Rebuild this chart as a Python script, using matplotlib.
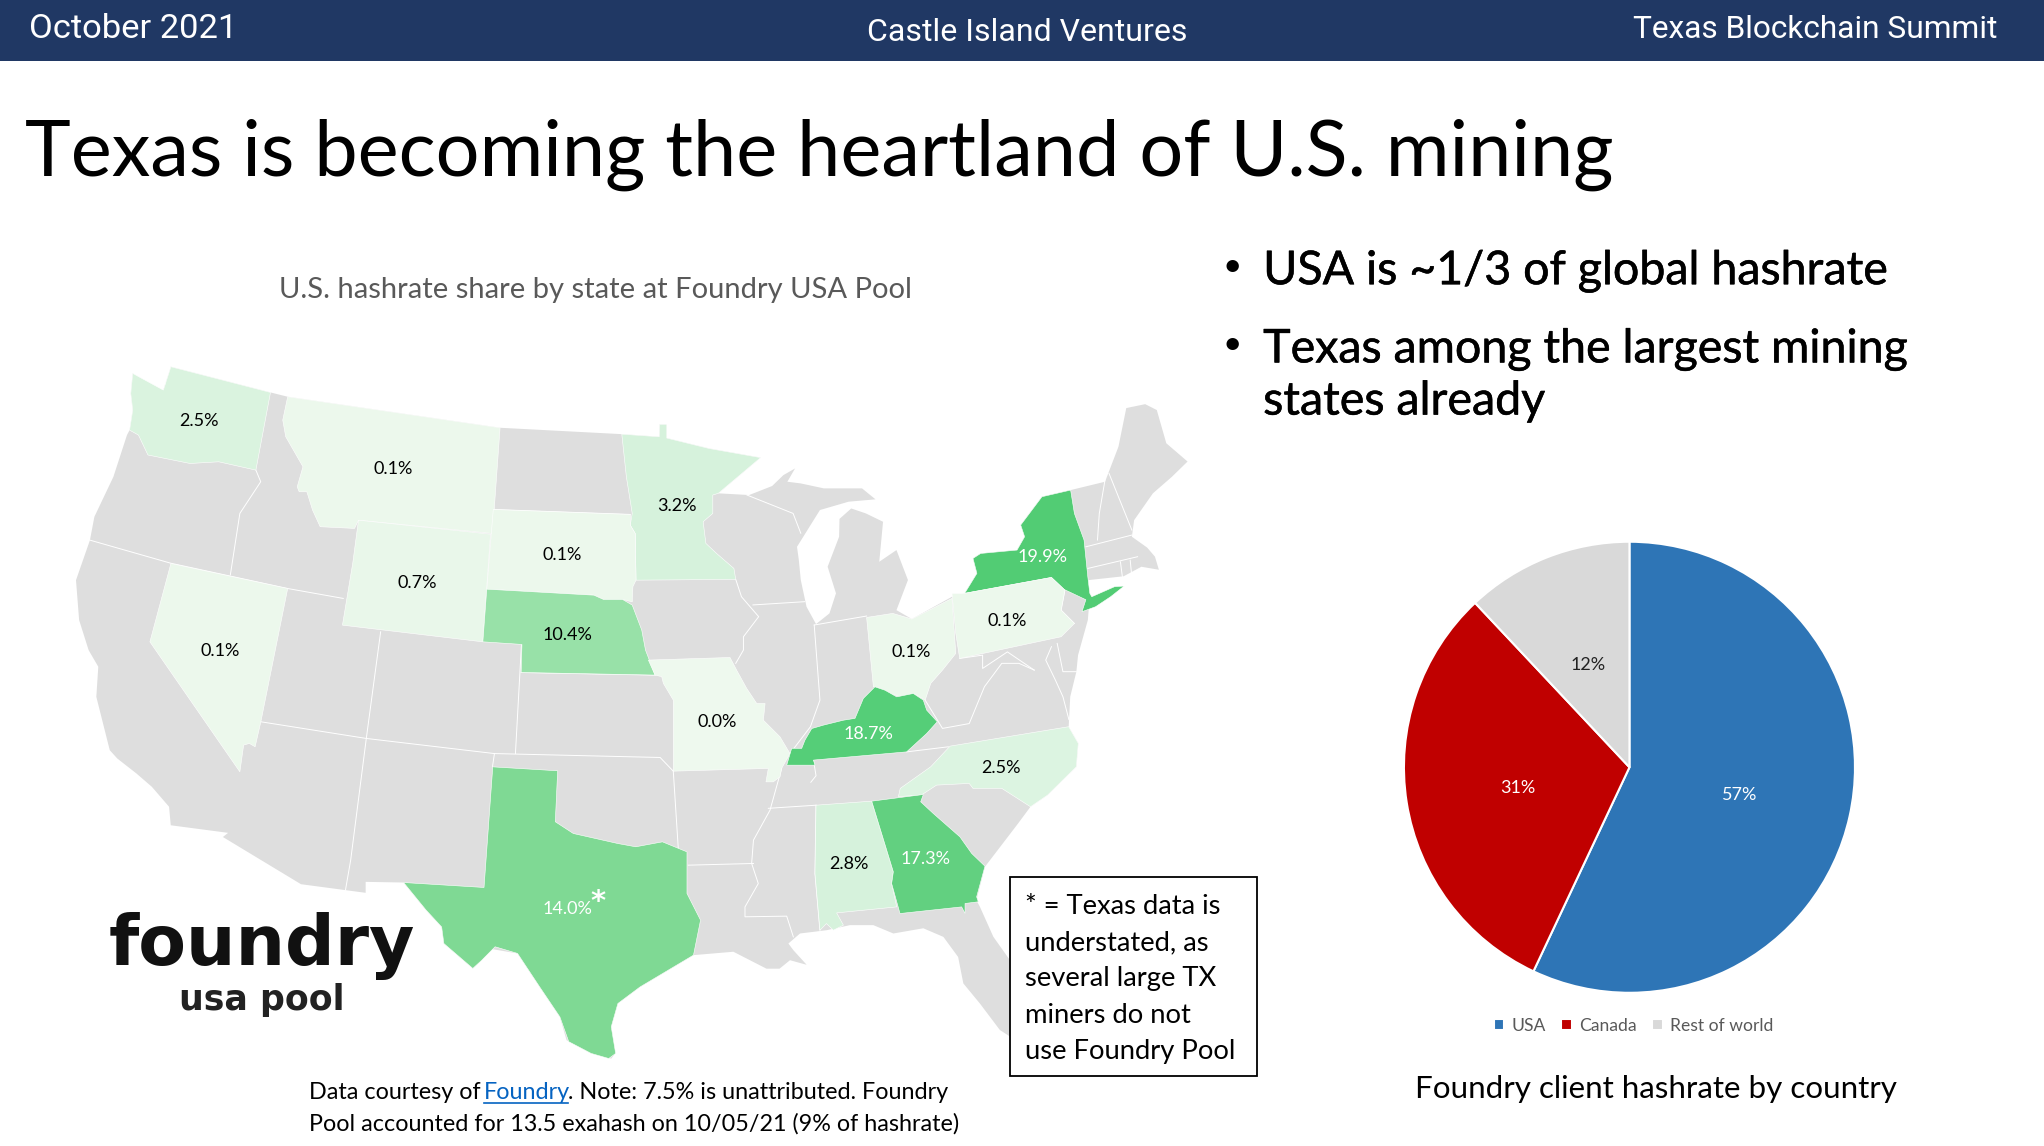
import matplotlib
matplotlib.use("Agg")
import matplotlib.pyplot as plt
import matplotlib.patheffects as pe
from matplotlib.patches import Polygon, Rectangle

# slide is traced in 1568 x 879 units, the figure is 2044 x 1146 px
SLIDE_W = 1568
SLIDE_H = 879

# %% data

country_names = ["USA", "Canada", "Rest of world"]
country_share = [57, 31, 12]
country_colors = ["#2E75B6", "#C00000", "#D9D9D9"]

state_names = ["WA", "MT", "MN", "SD", "WY", "NY", "NE", "PA", "NV", "OH", "MO", "KY", "NC", "AL", "GA", "TX"]
state_share = [2.5, 0.1, 3.2, 0.1, 0.7, 19.9, 10.4, 0.1, 0.1, 0.1, 0.0, 18.7, 2.5, 2.8, 17.3, 14.0]
state_colors = ["#DAF3DF", "#ECF8EC", "#D6F2DC", "#ECF8EC", "#E9F7EA", "#52CC74", "#98E1A8", "#ECF8EC",
                "#ECF8EC", "#ECF8EC", "#EEF9EE", "#55CE78", "#DCF4E1", "#D6F2DC", "#62D080", "#7FD994"]
label_spots = [(153, 323), (302, 360), (519, 388), (431, 426), (320, 447), (800, 427), (435, 487), (773, 476),
               (169, 499), (699, 500), (550, 554), (666, 563), (768, 589), (651, 663), (710, 659), (435, 697)]
white_labels = ["NY", "KY", "GA", "TX"]

us_outline = [
    (101.8, 286.4), (118, 298), (125.3, 299.2), (131.1, 281.3), (207.5, 301), (220.7, 304.3), (383.6, 328.1),
    (477, 333), (505.7, 335), (506, 325.5), (511.5, 325.5), (511.5, 336), (544, 344), (583.5, 351),
    (551, 378.4), (574.7, 379.7), (592.3, 372.8), (601, 364.4), (609.9, 359.3), (604, 369.5), (614.3, 370.8),
    (632, 374.6), (661.3, 374.6), (671.6, 383), (651, 384.8), (629, 391.2), (611.4, 419.4), (612.8, 429.6),
    (614.3, 444.9), (618.7, 465.4), (626, 478.7), (636.3, 470.5), (641.3, 455.1), (634.9, 434.7), (643.7, 411.7),
    (644, 398), (653, 390), (664.2, 393.8), (677.4, 400.2), (674.5, 430.9), (687.7, 421.9), (696.5, 444.9),
    (687.7, 468), (699.5, 474.8), (730.3, 457.7), (740, 455.1), (749.4, 439.8), (746.4, 428.3), (752.3, 424.5),
    (780.2, 421.9), (786, 411.7), (783, 402.7), (799.3, 381), (821.3, 375.9), (847.7, 369.5), (858, 342.6),
    (864, 313), (878.5, 310), (887.4, 314.5), (894.7, 340), (911, 354), (899, 365.7), (884.4, 378.4),
    (870, 399), (868.3, 411.7), (880, 420), (886, 427), (889, 437), (875.6, 434.7), (862, 442), (834.5, 445),
    (836, 457.7), (834.5, 475.6), (827, 502.5), (825.7, 515.2), (821, 534.4), (819.8, 557.4), (827.2, 570.2),
    (825.7, 588.1), (803.7, 609.8), (790.5, 618.8), (781, 631.6), (755.6, 664.8), (749, 690.4), (751.7, 695.5),
    (762, 718.5), (774.7, 736.4), (790, 760), (812, 790), (800, 810), (774.7, 795), (767, 790), (751.7, 769.7),
    (739, 754.3), (735, 734), (723.7, 718.6), (708.3, 712), (685.3, 716), (670, 709.6), (652, 709.6), (634, 713.5),
    (613.7, 716), (604.8, 723.7), (608.6, 728.8), (618.8, 740), (606, 736.5), (598, 743), (588, 743), (562.6, 730),
    (532, 732.6), (491, 757), (474, 769.7), (468.9, 787.6), (472, 808), (468.9, 812), (453.5, 808), (434.6, 797.8),
    (429.5, 780), (414, 757), (397, 731.3), (374.7, 727.5), (369.6, 736.5), (362.7, 742.8), (340.5, 723.7),
    (338.8, 711), (326.8, 698), (309.6, 676.9), (280.5, 676.4), (280.5, 684.8), (230.9, 678.2), (171, 642),
    (175, 638.8), (131, 633), (129.7, 618.8), (116.5, 603.5), (104.7, 593.3), (90, 581.8), (84.2, 575.4),
    (73.9, 534.5), (75.4, 511.4), (68, 498.7), (60.7, 475.6), (58.3, 445), (69, 414.3), (72.4, 396.4),
    (87, 365.7), (97.4, 333.7), (99.4, 329.9), (101.8, 314.6), (100.3, 301.8),
]

state_outlines = {
    "WA": [(101.8, 286.4), (125.3, 299.2), (131.1, 281.3), (207.5, 301), (196.3, 360.6), (167.8, 354.2),
           (145.8, 355.5), (113.5, 349), (106.2, 333.7), (99.4, 329.9), (101.8, 314.6), (100.3, 301.8)],
    "MT": [(220.7, 304.3), (383.6, 328.1), (377.8, 409.2), (275, 399), (272, 405.3), (245.6, 404), (239.8, 391.3),
           (235.4, 377.2), (229.5, 377.2), (228, 373.4), (232.4, 358), (219.2, 335), (216.9, 322.2)],
    "WY": [(275, 399), (376.3, 409.7), (370.4, 492.3), (262.7, 479.5), (270.6, 432)],
    "SD": [(378.4, 390.8), (483.5, 394.6), (483.5, 402.8), (487.3, 409.2), (487.9, 445), (485.5, 450), (485, 461.6),
           (477.6, 459.8), (463, 459.8), (455.6, 456.5), (373.4, 451.9)],
    "NE": [(373.4, 451.9), (455.6, 456.5), (463, 459.8), (477.6, 459.8), (485, 464.1), (492.3, 483.3), (495.2, 498.7),
           (502.6, 517.8), (399.8, 515.8), (400.4, 494.3), (370.4, 492.3)],
    "NV": [(131.1, 432.2), (220.7, 451.4), (200.1, 553.6), (195.7, 572.8), (191.3, 570.2), (186.9, 571.5),
           (184, 592), (115, 492.3)],
    "MN": [(477, 333), (505.7, 335), (506, 325.5), (511.5, 325.5), (511.5, 336), (544, 344), (583.5, 351),
           (551, 378.4), (546.8, 379.7), (546.8, 393.8), (539.4, 400.2), (541.5, 416.8), (549.7, 424.5), (563, 436),
           (564.4, 444.4), (487.9, 445), (487.3, 409.2), (483.5, 402.8), (485, 393.8), (480.5, 365.7)],
    "MO": [(497.4, 506.3), (560, 504.3), (565.1, 514), (572.8, 528), (580.5, 539.6), (586.9, 539.6), (585.6, 552.4),
           (598.4, 565.2), (606, 578), (599.6, 589.4), (598.4, 595.8), (593.2, 599.7), (587.6, 599.7), (589.4, 589.4),
           (516.5, 591.5), (516.5, 537), (508.9, 524.2), (507.6, 519), (502.5, 517.8)],
    "KY": [(603.5, 586.9), (607.3, 574), (615, 574), (617.5, 567.7), (622.7, 558.8), (631.6, 556.2), (647, 552.4),
           (655.9, 551), (662.3, 535.7), (671.2, 526.8), (678.9, 529.4), (687.9, 534.5), (700.6, 531.9), (708.3, 537),
           (710.9, 544.7), (719, 553.6), (710.9, 562.6), (695.5, 576.7), (624, 583), (625.2, 586.9)],
    "OH": [(664.8, 473.6), (684.8, 470.5), (699.5, 474.8), (730.3, 459), (733.2, 501.2), (723, 514), (714, 524.2),
           (709.7, 537), (700.9, 531.9), (690.6, 534.4), (678.9, 530.6), (673, 527.3), (670, 526.7)],
    "PA": [(730.3, 455.1), (740, 455.1), (806.6, 442.9), (816.9, 452.6), (814, 468), (824.2, 478.2), (814, 488.4),
           (736.2, 505), (733.2, 485.8)],
    "NY": [(740, 455.1), (749.4, 439.8), (746.4, 428.3), (752.3, 424.5), (780.2, 421.9), (786, 411.7), (783, 402.7),
           (799.3, 381), (821.3, 375.9), (824.2, 393.8), (831.6, 414.2), (834.5, 442.4), (836, 455), (837.5, 457.7),
           (855, 450), (862.4, 449.5), (852, 457.7), (840.4, 465.4), (830, 469.2), (833, 460), (816.3, 452.1),
           (806.6, 442.9)],
    "NC": [(728.8, 572.3), (819.8, 557.4), (827.2, 570.2), (825.7, 588.1), (803.7, 609.8), (790.5, 618.8),
           (768.5, 604.7), (746.4, 604.7), (743.5, 600.9), (718.5, 602.2), (706.8, 609.8), (689.2, 611), (690.6, 604.7),
           (714, 588.1)],
    "AL": [(626, 617.6), (668.7, 614.5), (685.3, 668.7), (684, 677.7), (687.9, 695.6), (641.8, 700.2), (647, 709.6),
           (639.3, 713.5), (634, 708.4), (629, 713.5), (625.2, 670)],
    "GA": [(668.7, 614.5), (708.3, 609.4), (706.3, 615), (716, 624), (736.4, 641.9), (745.4, 654.6), (755.6, 664.4),
           (749.2, 687.9), (750.5, 691.7), (740.3, 693), (740.3, 700.7), (737.7, 695.6), (690.4, 700.7), (684, 677.7),
           (685.3, 668.7)],
    "TX": [(378, 588.2), (427.8, 591.2), (426, 630.3), (439.8, 639.3), (474, 647), (487.7, 649.5), (508.2, 645.7),
           (527, 653.4), (527, 685.3), (537.4, 705.8), (532, 732.6), (491, 757), (474, 769.7), (468.9, 787.6),
           (472.3, 808), (467, 811.9), (453.5, 808), (436.3, 799), (429.5, 780), (414, 757), (397, 731.3),
           (379.8, 726.2), (369.6, 736.5), (362.7, 742.8), (340.5, 723.7), (338.8, 711), (326.8, 698), (309.6, 676.9),
           (371.3, 680.7)],
}

# thin white borders between the grey states
border_lines = [
    [(69, 414.3), (131, 432), (220.7, 451.4), (263.3, 459)],
    [(196.3, 360.6), (200, 369.5), (184, 393.8), (176.7, 441)],
    [(200, 553.6), (281, 566.4), (379.3, 578), (506.4, 581), (516.5, 591.5)],
    [(292, 484.6), (281, 566.4), (269, 659.8), (265, 682.8)],
    [(400, 494.8), (395.4, 578)],
    [(379.3, 578), (377.8, 588)],
    [(399.8, 515.8), (502.6, 517.8)],
    [(378.4, 390.8), (483.5, 394.6)],
    [(564.4, 444.4), (568.8, 457.7), (582, 473), (570.3, 488.4), (570.3, 498.6), (564.4, 508.8)],
    [(577.6, 464), (617.3, 461.5)],
    [(624.6, 479.4), (629, 537), (621.7, 557.4), (606, 578)],
    [(624.6, 479.4), (664.8, 472.5)],
    [(573, 379.7), (608.4, 393.8), (614.3, 409)],
    [(516.5, 591.5), (520.4, 652)],
    [(528, 663.6), (578, 662.3)],
    [(599.6, 589.4), (590.7, 621.4), (578, 644.4), (576.6, 662.3), (581.7, 677.7), (571.5, 695.6), (571.5, 703.2),
     (603.5, 702.7), (608.6, 718.6)],
    [(589.4, 620), (626, 617.6)],
    [(624, 583), (626, 595), (622, 600)],
    [(695.5, 576.7), (727.5, 572.8)],
    [(626, 617.6), (625.2, 670), (629, 713.5)],
    [(709.7, 537), (723, 558.7), (743.5, 555), (755.2, 526.7), (768.5, 508.8), (781.7, 508.8), (793.4, 514)],
    [(736.2, 505), (753.8, 502.5), (753.8, 512.7), (772.8, 500), (793.4, 514)],
    [(811, 493.5), (815.4, 515.2), (825.7, 515.2)],
    [(806.6, 496), (802.2, 506.3), (809.6, 521.6), (815.4, 534.4), (820, 552)],
    [(847.7, 368), (843.3, 393.8), (841.9, 414.2)],
    [(850.7, 363), (868.3, 406.6)],
    [(833, 419.4), (868.3, 410.4)],
    [(834.5, 436), (872.7, 427)],
    [(859.5, 430.9), (861, 442.4)],
    [(867, 429.6), (868, 440)],
    [(816.9, 452.6), (814, 468), (824.2, 478.2)],
    [(119, 298), (124, 305), (118, 316), (120, 318), (127, 305), (127, 292)],
]

note_lines = ["* = Texas data is", "understated, as", "several large TX", "miners do not", "use Foundry Pool"]
bullets = ["USA is ~1/3 of global hashrate", "Texas among the largest mining", "states already"]

# %% slide

plt.rcParams["font.family"] = ["Lato", "DejaVu Sans"]

fig = plt.figure(figsize=(20.44, 11.46), dpi=100)
ax = fig.add_axes([0, 0, 1, 1])
ax.set_xlim(0, SLIDE_W)
ax.set_ylim(SLIDE_H, 0)
ax.axis("off")

ax.add_patch(Rectangle((0, 0), SLIDE_W, 47, fc="#203864", ec="none"))
head_font = dict(family="Roboto", color="white", va="center")
ax.text(22, 22.5, "October 2021", ha="left", fontsize=24.8, **head_font)
ax.text(788, 25, "Castle Island Ventures", ha="center", fontsize=23, **head_font)
ax.text(1532, 22.5, "Texas Blockchain Summit", ha="right", fontsize=22.8, **head_font)

ax.text(19, 135, "Texas is becoming the heartland of U.S. mining", fontsize=55.8, color="black", va="baseline")
ax.text(457, 222.5, "U.S. hashrate share by state at Foundry USA Pool", fontsize=21, color="#595959",
        ha="center", va="center")

# %% map

ax.add_patch(Polygon(us_outline, closed=True, fc="#DEDEDE", ec="none", zorder=1))
for line in border_lines:
    xs, ys = zip(*line)
    ax.plot(xs, ys, color="white", lw=0.7, zorder=2)

for name, share, color, spot in zip(state_names, state_share, state_colors, label_spots):
    ax.add_patch(Polygon(state_outlines[name], closed=True, fc=color, ec="white", lw=0.4, zorder=3))
    label_color = "white" if name in white_labels else "black"
    ax.text(spot[0], spot[1], f"{share:.1f}%", color=label_color, fontsize=13, ha="center", va="center", zorder=4)
ax.text(459, 692, "*", family="DejaVu Sans", color="white", fontsize=21, fontweight="bold",
        ha="center", va="center", zorder=4)

# logo
ax.text(201, 740, "foundry", family="DejaVu Sans", fontweight="bold", fontsize=50, color="#111111",
        ha="center", va="baseline")
ax.text(201, 775, "usa pool", family="DejaVu Sans", fontweight="bold", fontsize=25, color="#222222",
        ha="center", va="baseline")

# %% notes

heavy = [pe.withStroke(linewidth=0.4, foreground="black")]

ax.add_patch(Rectangle((775, 673), 189, 152, fc="white", ec="black", lw=1.3, zorder=5))
for i, line in enumerate(note_lines):
    ax.text(786, 695 + i * 27.9, line, fontsize=19.7, color="black", va="center", zorder=6)

note_font = dict(fontsize=16.8, color="black", va="center")
ax.text(237, 838, "Data courtesy of", **note_font)
ax.text(371, 838, "Foundry", fontsize=16.8, color="#0563C1", va="center")
ax.plot([371, 436], [846, 846], color="#0563C1", lw=1.2)
ax.text(436, 838, ". Note: 7.5% is unattributed. Foundry", **note_font)
ax.text(237, 862, "Pool accounted for 13.5 exahash on 10/05/21 (9% of hashrate)", **note_font)

bullet_font = dict(fontsize=33.5, color="black", va="center", path_effects=heavy)
ax.text(945, 205, "•", fontsize=24, color="black", ha="center", va="center")
ax.text(969, 208, bullets[0], **bullet_font)
ax.text(945, 265, "•", fontsize=24, color="black", ha="center", va="center")
ax.text(969, 268, bullets[1], **bullet_font)
ax.text(969, 308, bullets[2], **bullet_font)

# %% pie

pie_ax = fig.add_axes([1077 / SLIDE_W, 1 - 762 / SLIDE_H, 346 / SLIDE_W, 347 / SLIDE_H])
wedges, _, pct_texts = pie_ax.pie(
    country_share,
    colors=country_colors,
    startangle=90,
    counterclock=False,
    radius=1.0,
    autopct="%.0f%%",
    pctdistance=0.5,
    wedgeprops=dict(edgecolor="white", linewidth=1.5),
    textprops=dict(fontsize=13),
)
pct_texts[0].set_color("white")
pct_texts[1].set_color("white")
pct_texts[2].set_color("#222222")
for t in pct_texts:
    t.set_y(t.get_position()[1] - 0.012)
pie_ax.set_xlim(-1, 1)
pie_ax.set_ylim(-1, 1)

ax.legend(
    wedges,
    country_names,
    loc="center",
    bbox_to_anchor=(1253 / SLIDE_W, 1 - 787 / SLIDE_H),
    ncol=3,
    frameon=False,
    fontsize=12.6,
    labelcolor="#595959",
    handlelength=0.6,
    handleheight=0.6,
    handletextpad=0.4,
    columnspacing=0.9,
)
ax.text(1270, 835, "Foundry client hashrate by country", fontsize=22.6, color="black", ha="center", va="center")

fig.savefig("out.png", dpi=100)
